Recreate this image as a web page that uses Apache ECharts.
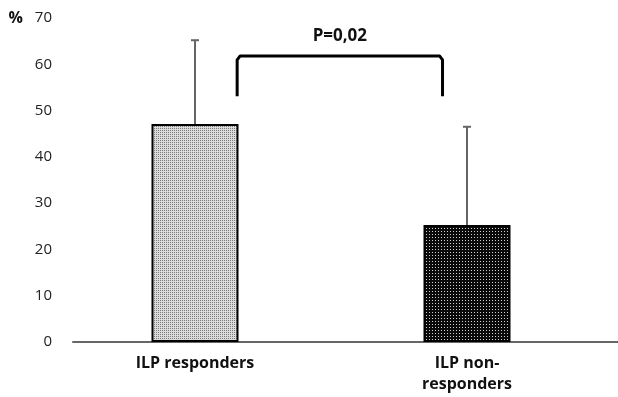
<!DOCTYPE html>
<html>
<head>
<meta charset="utf-8">
<script src="https://cdn.jsdelivr.net/npm/echarts@6/dist/echarts.min.js"></script>
<style>
  html, body { margin: 0; padding: 0; background: #fff; }
  #chart { width: 618px; height: 397px; }
</style>
</head>
<body>
<div id="chart"></div>
<script>
// data
const categories = ['ILP responders', 'ILP non-\nresponders'];
const means = [47.1, 25.3];
const errTops = [65.2, 46.5];
const yTicks = [0, 10, 20, 30, 40, 50, 60, 70];
const pLabel = 'P=0,02';
// bracket: from category 0 to 1, ends at 53, bar at 62
const bracket = [[0, 1, 53.1, 61.8]];

// small tiled patterns for the dotted fills
function makePattern(bg, dot, size) {
    const c = document.createElement('canvas');
    c.width = size; c.height = size;
    const ctx = c.getContext('2d');
    ctx.fillStyle = bg;
    ctx.fillRect(0, 0, size, size);
    ctx.fillStyle = dot;
    ctx.fillRect(0, 0, 1, 1);
    return { image: c, repeat: 'repeat' };
}
const lightFill = makePattern('#dcdcdc', '#7a7a7a', 2);
const darkFill = makePattern('#0a0a0a', '#d0d0d0', 3);

const chart = echarts.init(document.getElementById('chart'));

const GRID = { top: 18, bottom: 55 };

chart.setOption({
    animation: false,
    textStyle: { fontFamily: 'Open Sans' },
    grid: [
        { left: 59, right: 15, top: GRID.top, bottom: GRID.bottom },
        { left: 73, right: 0, top: GRID.top, bottom: GRID.bottom }
    ],
    xAxis: [{
        type: 'category',
        gridIndex: 0,
        data: categories,
        axisLine: { show: false },
        axisTick: { show: false },
        axisLabel: {
            color: '#111', fontSize: 16, fontWeight: 'bold',
            margin: 11, lineHeight: 21
        }
    }, {
        type: 'value',
        gridIndex: 1,
        min: 0, max: 1,
        axisLine: { show: true, onZero: false, lineStyle: { color: '#666', width: 2 } },
        axisTick: { show: false },
        axisLabel: { show: false },
        splitLine: { show: false }
    }],
    yAxis: [{
        type: 'value',
        gridIndex: 0,
        min: yTicks[0], max: yTicks[yTicks.length - 1], interval: 10,
        name: '%',
        nameLocation: 'end',
        nameGap: 0,
        nameTextStyle: {
            color: '#111', fontSize: 16, fontWeight: 'bold',
            align: 'right', verticalAlign: 'middle', padding: [0, 36, 0, 0]
        },
        axisLine: { show: false },
        axisTick: { show: false },
        splitLine: { show: false },
        axisLabel: { color: '#222', fontSize: 15, margin: 7 }
    }, {
        type: 'value',
        gridIndex: 1,
        min: 0, max: 70,
        show: false
    }],
    series: [{
        type: 'bar',
        xAxisIndex: 0, yAxisIndex: 0,
        barWidth: 87,
        data: means.map((v, i) => ({
            value: v,
            itemStyle: {
                color: i === 0 ? lightFill : darkFill,
                borderColor: '#000',
                borderWidth: 2
            }
        }))
    }, {
        // error bars (upper only)
        type: 'custom',
        xAxisIndex: 0, yAxisIndex: 0,
        z: 1,
        data: means.map((v, i) => [i, v, errTops[i]]),
        renderItem: (params, api) => {
            const base = api.coord([api.value(0), api.value(1)]);
            const top = api.coord([api.value(0), api.value(2)]);
            const cap = 4;
            return {
                type: 'group',
                children: [{
                    type: 'line',
                    shape: { x1: base[0], y1: base[1], x2: top[0], y2: top[1] },
                    style: { stroke: '#666', lineWidth: 2 }
                }, {
                    type: 'line',
                    shape: { x1: top[0] - cap, y1: top[1], x2: top[0] + cap, y2: top[1] },
                    style: { stroke: '#666', lineWidth: 2 }
                }]
            };
        }
    }, {
        // significance bracket
        type: 'custom',
        xAxisIndex: 0, yAxisIndex: 0,
        data: bracket,
        renderItem: (params, api) => {
            const band = api.size([1, 0])[0];
            const a = api.coord([api.value(0), api.value(3)]);
            const b = api.coord([api.value(1), api.value(3)]);
            const low = api.coord([api.value(0), api.value(2)])[1];
            const x1 = a[0] + band * 0.155;
            const x2 = b[0] - band * 0.09;
            const y = a[1];
            const txt = api.coord([0, 66])[1];
            return {
                type: 'group',
                children: [{
                    type: 'polyline',
                    shape: { points: [[x1, low], [x1, y + 4], [x1 + 3, y], [x2 - 3, y], [x2, y + 4], [x2, low]] },
                    style: { stroke: '#000', lineWidth: 3, fill: null, lineJoin: 'round' }
                }, {
                    type: 'text',
                    style: {
                        text: pLabel, x: (x1 + x2) / 2, y: txt,
                        align: 'center', verticalAlign: 'middle',
                        font: 'bold 17px "Open Sans"', fill: '#111'
                    }
                }]
            };
        }
    }]
});
</script>
</body>
</html>
